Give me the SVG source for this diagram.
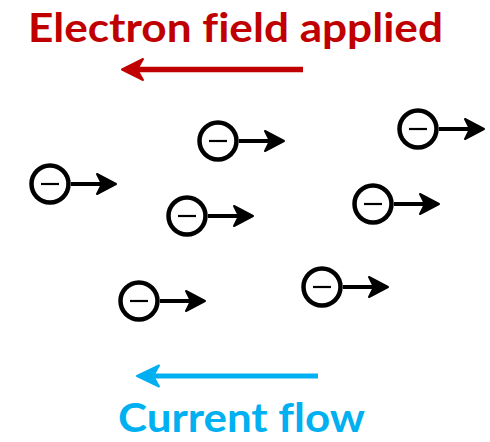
<svg xmlns="http://www.w3.org/2000/svg" xmlns:xlink="http://www.w3.org/1999/xlink" width="490" height="442" viewBox="0 0 490 442">
<style>
.lbl{font-family:Lato,"Open Sans","Liberation Sans",sans-serif;font-weight:700;font-size:41px;font-variant-ligatures:none;font-feature-settings:"liga" 0}
.red{fill:#C00000}
.blue{fill:#00B0F0}
.ring{fill:#fff;stroke:#000;stroke-width:4.5}
.minus{stroke:#000;stroke-width:2.2}
.shaft{stroke:#000;stroke-width:4}
.head{fill:#000;stroke:#000;stroke-width:2;stroke-linejoin:round}
</style>
<defs>
<g id="electron">
<circle class="ring" cx="0" cy="0" r="18.5"/>
<line class="minus" x1="-9" y1="0" x2="9" y2="0"/>
<line class="shaft" x1="21" y1="0" x2="58" y2="0"/>
<path class="head" d="M66,0 L47,-10 L52,0 L47,10 Z"/>
</g>
</defs>
<rect width="490" height="442" fill="#fff"/>
<text class="lbl red" x="28" y="42" textLength="415" lengthAdjust="spacingAndGlyphs">Electron field applied</text>
<text class="lbl blue" x="118" y="432" font-size="39" textLength="247" lengthAdjust="spacingAndGlyphs">Current flow</text>
<g id="connectors">
<g id="field-arrow">
<line x1="303" y1="69.5" x2="132" y2="69.5" stroke="#C00000" stroke-width="5.5"/>
<path d="M122,69.5 L143,59 L137,69.5 L143,80 Z" fill="#C00000" stroke="#C00000" stroke-width="2" stroke-linejoin="round"/>
</g>
<g id="current-arrow">
<line x1="318" y1="376" x2="147" y2="376" stroke="#00B0F0" stroke-width="5"/>
<path d="M137,376 L159,365.5 L153,376 L159,386.5 Z" fill="#00B0F0" stroke="#00B0F0" stroke-width="2" stroke-linejoin="round"/>
</g>
</g>
<g id="e1"><use xlink:href="#electron" transform="translate(50,184)"/></g>
<g id="e2"><use xlink:href="#electron" transform="translate(218,141)"/></g>
<g id="e3"><use xlink:href="#electron" transform="translate(418,129)"/></g>
<g id="e4"><use xlink:href="#electron" transform="translate(187,216)"/></g>
<g id="e5"><use xlink:href="#electron" transform="translate(373,204)"/></g>
<g id="e6"><use xlink:href="#electron" transform="translate(139,301)"/></g>
<g id="e7"><use xlink:href="#electron" transform="translate(322,287)"/></g>
</svg>
